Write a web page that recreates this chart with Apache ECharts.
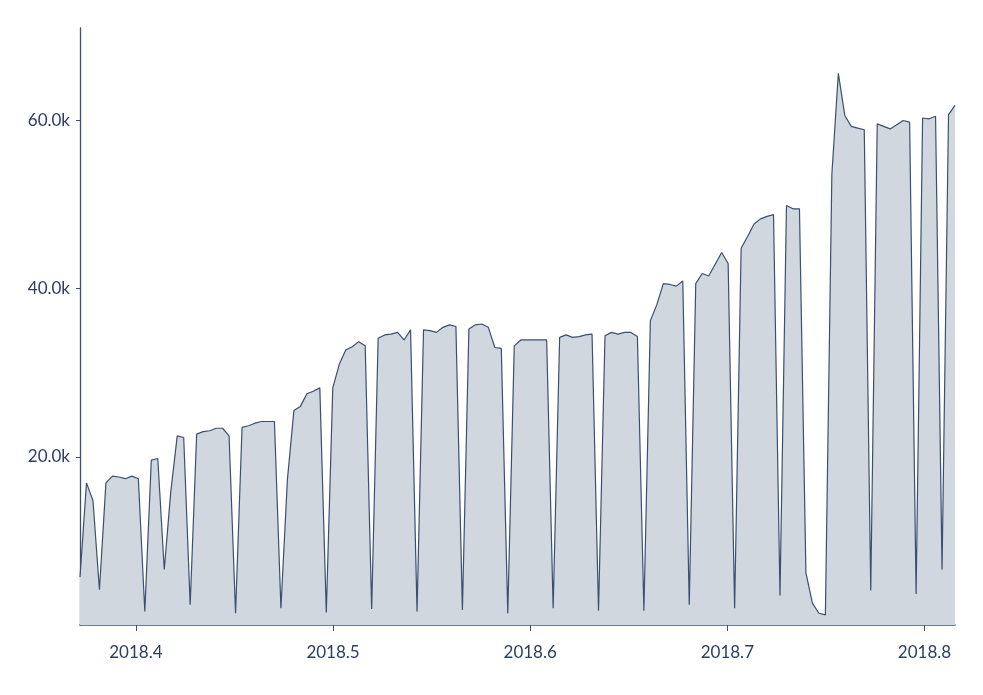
<!DOCTYPE html>
<html>
<head>
<meta charset="utf-8">
<title>daily</title>
<script src="https://cdn.jsdelivr.net/npm/echarts@6/dist/echarts.min.js"></script>
<style>
  html, body { margin: 0; padding: 0; background: #fff; }
  #chart { width: 983px; height: 695px; }
</style>
</head>
<body>
<div id="chart"></div>
<script>
// one value per day, starting at startDate
var startDate = '2018-03-23';
var values = [
    5700, 16900, 14800, 4200, 16900, 17700, 17600, 17400, 17700,            // Mar 23-31
    17400, 1600, 19600, 19800, 6600, 15800, 22500, 22300, 2400, 22700,      // Apr 1-10
    23000, 23100, 23400, 23400, 22500, 1400, 23500, 23700, 24000, 24200,    // Apr 11-20
    24200, 24200, 2000, 17300, 25500, 26000, 27500, 27800, 28200, 1500,     // Apr 21-30
    28200, 31000, 32700, 33100, 33700, 33200, 1900, 34100, 34500, 34600,    // May 1-10
    34800, 33900, 35100, 1600, 35100, 35000, 34800, 35400, 35700, 35500,    // May 11-20
    1800, 35200, 35700, 35800, 35400, 33000, 32900, 1400, 33200, 33900, 33900, // May 21-31
    33900, 33900, 33900, 2000, 34200, 34500, 34200, 34300, 34500, 34600,    // Jun 1-10
    1700, 34400, 34800, 34600, 34800, 34800, 34300, 1700, 36200, 38100,     // Jun 11-20
    40600, 40500, 40300, 40900, 2400, 40600, 41800, 41500, 42900, 44300,    // Jun 21-30
    43000, 2000, 44800, 46200, 47700, 48300, 48600, 48800, 3500, 49900,     // Jul 1-10
    49500, 49500, 6200, 2600, 1400, 1200, 53600, 65600, 60600, 59300,       // Jul 11-20
    59100, 58900, 4100, 59600, 59300, 59000, 59500, 60000, 59800, 3700, 60300, // Jul 21-31
    60200, 60500, 6600, 60700, 61800                                        // Aug 1-5
];

// x ticks in the picture sit evenly spaced, not on exact month starts
var xTickDates = ['2018-03-31T15:00:00Z', '2018-05-01T01:00:00Z', '2018-05-31T11:00:00Z',
                  '2018-06-30T21:00:00Z', '2018-07-31T07:00:00Z'];
var xTickLabels = ['2018.4', '2018.5', '2018.6', '2018.7', '2018.8'];
var yTickValues = [20000, 40000, 60000];

var DAY = 86400000;
var t0 = Date.parse(startDate + 'T00:00:00Z');
var seriesData = values.map(function (v, i) { return [t0 + i * DAY, v]; });
var tickTimes = xTickDates.map(function (d) { return Date.parse(d); });

var navy = '#2c3f5e';
var lineNavy = '#3b4f6f';

var option = {
    backgroundColor: '#fff',
    animation: false,
    grid: { left: 80, right: 28, top: 28, bottom: 70 },
    xAxis: {
        type: 'value',
        min: t0,
        max: t0 + (values.length - 1) * DAY,
        axisLine: { lineStyle: { color: lineNavy, width: 1.5 } },
        axisTick: {
            customValues: tickTimes,
            length: 6,
            lineStyle: { color: lineNavy, width: 1 }
        },
        axisLabel: {
            customValues: tickTimes,
            margin: 19,
            color: navy,
            fontFamily: 'Lato',
            fontSize: 17,
            formatter: function (v) {
                var i = tickTimes.indexOf(v);
                return i < 0 ? '' : xTickLabels[i];
            }
        },
        splitLine: { show: false }
    },
    yAxis: {
        type: 'value',
        min: 0,
        max: 71000,
        axisLine: { show: true, lineStyle: { color: lineNavy, width: 1.3 } },
        axisTick: {
            show: true,
            customValues: yTickValues,
            length: 4,
            lineStyle: { color: lineNavy, width: 1 }
        },
        axisLabel: {
            customValues: yTickValues,
            margin: 10,
            color: navy,
            fontFamily: 'Lato',
            fontSize: 17,
            formatter: function (v) {
                return (v / 1000).toFixed(1) + 'k';
            }
        },
        splitLine: { show: false }
    },
    series: [{
        type: 'line',
        data: seriesData,
        symbol: 'none',
        lineStyle: { color: lineNavy, width: 1.2 },
        areaStyle: { color: '#d0d7df', opacity: 1 }
    }]
};

var myChart = echarts.init(document.getElementById('chart'));
myChart.setOption(option);
</script>
</body>
</html>
